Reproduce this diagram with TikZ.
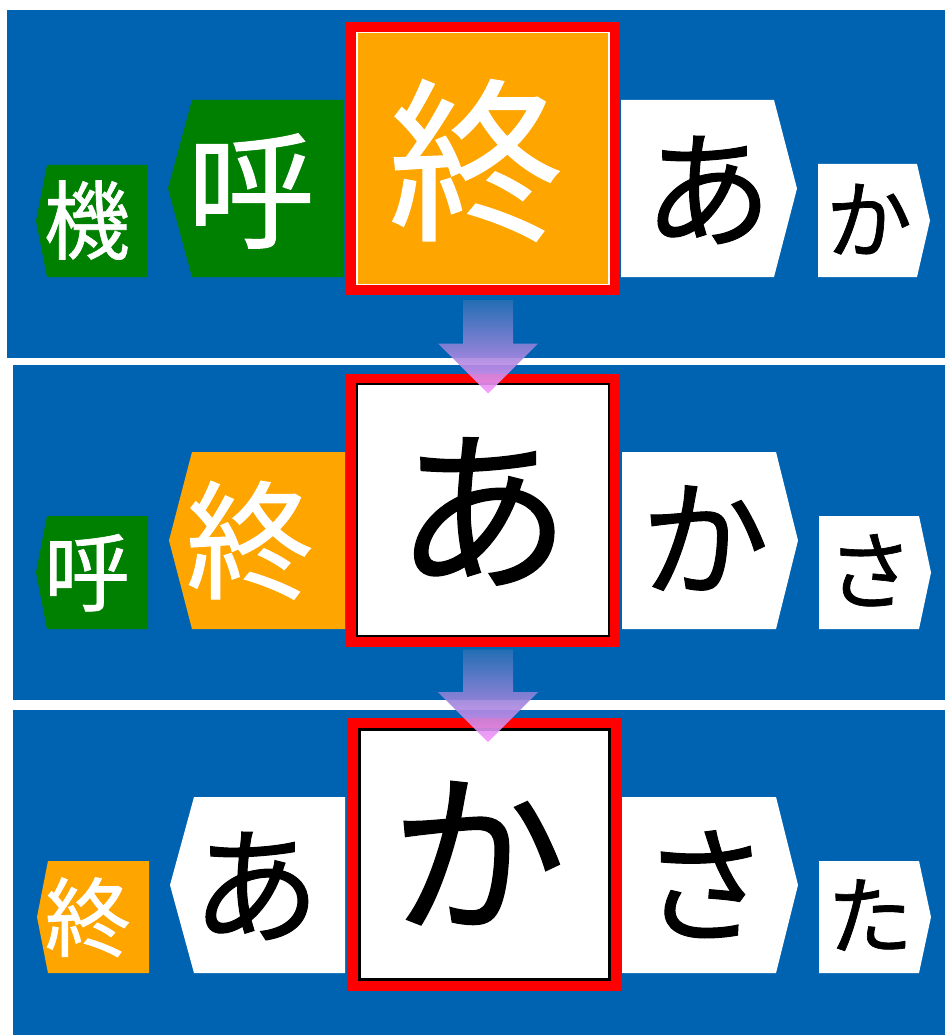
\documentclass[tikz,border=0pt]{standalone}
\usepackage{fontspec}
\newfontfamily\jp[FakeBold=0.8]{Noto Sans CJK JP}
\usetikzlibrary{calc}
\definecolor{panelblue}{RGB}{0,99,177}
\definecolor{kgreen}{RGB}{0,128,0}
\definecolor{korange}{RGB}{255,165,0}
\definecolor{kred}{RGB}{255,0,0}
\definecolor{arrtop}{RGB}{40,112,180}
\definecolor{arrmid}{RGB}{178,172,230}
\definecolor{arrbot}{RGB}{252,150,252}
\newcommand\bigsz{\jp\fontsize{175}{175}\selectfont}
\newcommand\medsz{\jp\fontsize{128}{128}\selectfont}
\newcommand\smlsz{\jp\fontsize{86}{86}\selectfont}
% left-pointing tab: #1 point x, #2 left x, #3 right x, #4 top, #5 bottom, #6 colour
\newcommand\ltab[6]{\fill[#6] (#2,#4) -- (#3,#4) -- (#3,#5) -- (#2,#5) -- (#1,{(#4+#5)/2}) -- cycle;}
% right-pointing tab: #1 left x, #2 right x, #3 point x, #4 top, #5 bottom, #6 colour
\newcommand\rtab[6]{\fill[#6] (#1,#4) -- (#2,#4) -- (#3,{(#4+#5)/2}) -- (#2,#5) -- (#1,#5) -- cycle;}
\tikzset{
  kana/.style={inner sep=0pt, outer sep=0pt, anchor=center},
  bigk/.style={kana, font=\bigsz, text height=154pt, text depth=21pt},
  medk/.style={kana, font=\medsz, text height=112.6pt, text depth=15.4pt},
  smlk/.style={kana, font=\smlsz, text height=75.7pt, text depth=10.3pt},
  redframe/.style={fill=kred, inner sep=0pt, outer sep=0pt, minimum width=274, minimum height=273},
  blockarrow/.style={top color=arrtop, middle color=arrmid, bottom color=arrbot, opacity=0.9},
}
\begin{document}
\begin{tikzpicture}[x=1pt,y=-1pt]
\useasboundingbox (0,0) rectangle (945,1035);
\fill[white] (0,0) rectangle (945,1035);
% panels
\fill[panelblue] (7,10) rectangle (945,357.5);
\fill[panelblue] (13,364.5) rectangle (945,700);
\fill[panelblue] (13,709.5) rectangle (945,1035);

% ---------------- panel 1 ----------------
\ltab{36}{47}{147}{165}{277}{kgreen}
\ltab{168}{192}{344}{100}{277}{kgreen}
\rtab{621}{774}{797}{100}{277}{white}
\rtab{818}{917}{930}{164}{277}{white}
\node[redframe] (f1) at (483,158.5) {};
\node[fill=korange, draw=white, line width=1.5pt, inner sep=0pt, minimum width=252, minimum height=252] (f1in) at (f1.center) {};
\node[smlk, text=white] (p1a) at (87,220) {機};
\node[medk, text=white] (p1b) at (251,190) {呼};
\node[bigk, text=white] (p1c) at (476,160) {終};
\node[medk, text=black] (p1d) at (708,189) {あ};
\node[smlk, text=black] (p1e) at (869,219) {か};

% ---------------- panel 2 ----------------
\ltab{36}{47}{148}{516}{629}{kgreen}
\ltab{169}{192}{345}{452}{629}{korange}
\rtab{622}{776}{798}{452}{629}{white}
\rtab{819}{919}{931}{516}{629}{white}
\node[redframe] (f2) at (483,510) {};
\node[fill=white, draw=black, line width=2pt, inner sep=0pt, minimum width=252, minimum height=252] (f2in) at (f2.center) {};
\node[smlk, text=white] (p2a) at (87,572) {呼};
\node[medk, text=white] (p2b) at (250,540) {終};
\node[bigk, text=black] (p2c) at (483,510) {あ};
\node[medk, text=black] (p2d) at (705,538) {か};
\node[smlk, text=black] (p2e) at (870,570) {さ};

% ---------------- panel 3 ----------------
\ltab{37}{48}{149}{861}{973}{korange}
\ltab{170}{194}{345}{797}{973}{white}
\rtab{622}{776}{798}{797}{973}{white}
\rtab{819}{919}{931}{861}{973}{white}
\node[redframe] (f3) at (484,854.5) {};
\node[fill=white, draw=black, line width=3pt, inner sep=0pt, minimum width=250, minimum height=250] (f3in) at (f3.center) {};
\node[smlk, text=white] (p3a) at (88,917) {終};
\node[medk, text=black] (p3b) at (256,885) {あ};
\node[bigk, text=black] (p3c) at (478,853) {か};
\node[medk, text=black] (p3d) at (705,884) {さ};
\node[smlk, text=black] (p3e) at (870,915) {た};

% ---------------- block arrows ----------------
\coordinate (a1s) at ($(f1.south)+(5,5)$);
\coordinate (a1t) at ($(f2.north)+(5,20)$);
\shade[blockarrow] ($(a1s)+(-25,0)$) -- ($(a1s)+(25,0)$) -- ($(a1t)+(25,-50)$) -- ($(a1t)+(50,-50)$)
  -- (a1t) -- ($(a1t)+(-50,-50)$) -- ($(a1t)+(-25,-50)$) -- cycle;
\coordinate (a2s) at ($(f2.south)+(5,3)$);
\coordinate (a2t) at ($(f3.north)+(4,24)$);
\shade[blockarrow] ($(a2s)+(-25,0)$) -- ($(a2s)+(25,0)$) -- ($(a2t)+(25,-50)$) -- ($(a2t)+(50,-50)$)
  -- (a2t) -- ($(a2t)+(-50,-50)$) -- ($(a2t)+(-25,-50)$) -- cycle;
\end{tikzpicture}
\end{document}
